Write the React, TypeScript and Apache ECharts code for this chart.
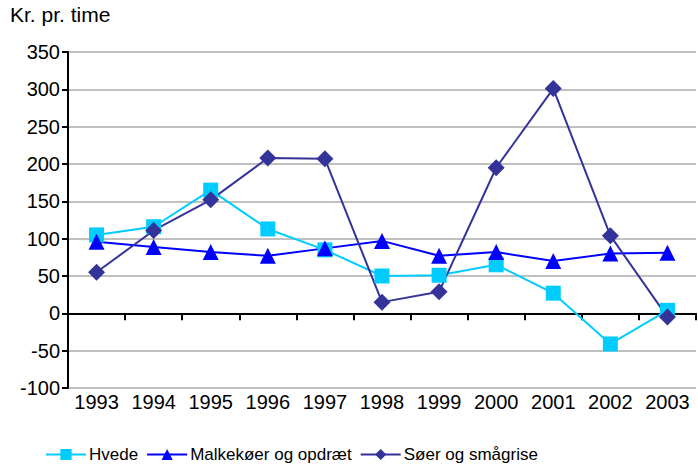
import React, { useEffect, useRef } from "react";
import * as echarts from "echarts";

const years = ["1993", "1994", "1995", "1996", "1997", "1998", "1999", "2000", "2001", "2002", "2003"];
const hvede = [105, 116, 165, 113, 85, 50, 51, 65, 27, -41, 4];
const malkekoer = [96, 89, 82, 77, 87, 97, 77, 82, 70, 80, 81];
const soer = [55, 111, 152, 208, 207, 15, 29, 195, 301, 104, -5];
const yTitle = "Kr. pr. time";

export default function App() {
  const ref = useRef<HTMLDivElement>(null);
  useEffect(() => {
    const chart = echarts.init(ref.current!, null, { renderer: "svg" });
    const font = "'Liberation Sans', Arial, sans-serif";
    const mk = (name: string, data: number[], color: string, symbol: string, size: number) => ({
      name,
      type: "line",
      data,
      xAxisIndex: 0,
      yAxisIndex: 0,
      symbol,
      symbolSize: size,
      lineStyle: { color, width: 2 },
      itemStyle: { color },
      color,
    });
    chart.setOption({
      animation: false,
      textStyle: { fontFamily: font },
      title: {
        text: yTitle,
        left: 10,
        top: 4,
        padding: 0,
        textStyle: { fontFamily: font, fontSize: 21, fontWeight: "normal", color: "#000" },
      },
      grid: { left: 68, right: 2, top: 52, bottom: 85 },
      legend: {
        left: 40,
        bottom: 5,
        itemWidth: 40,
        itemHeight: 14,
        itemGap: 8,
        textStyle: { fontFamily: font, fontSize: 17, color: "#000", padding: [0, 0, 0, -2] },
        data: ["Hvede", "Malkekøer og opdræt", "Søer og smågrise"],
      },
      xAxis: [
        {
          type: "category",
          data: years,
          boundaryGap: true,
          axisLine: { show: false, onZero: false },
          axisTick: { show: false },
          axisLabel: { fontFamily: font, fontSize: 20, color: "#000", margin: 4, interval: 0 },
          splitLine: { show: false },
        },
        {
          type: "category",
          data: years,
          boundaryGap: true,
          position: "bottom",
          axisLine: { show: true, onZero: true, lineStyle: { color: "#000", width: 2 } },
          axisTick: { show: true, length: 7, lineStyle: { color: "#000", width: 2 }, interval: 0 },
          axisLabel: { show: false },
          splitLine: { show: false },
        },
      ],
      yAxis: {
        type: "value",
        min: -100,
        max: 350,
        interval: 50,
        axisLine: { show: true, lineStyle: { color: "#000", width: 2 } },
        axisTick: { show: true, length: 6, lineStyle: { color: "#000", width: 2 } },
        axisLabel: { fontFamily: font, fontSize: 20, color: "#000", margin: 8 },
        splitLine: { show: true, lineStyle: { color: "#C0C0C0", width: 2 } },
      },
      series: [
        mk("Hvede", hvede, "#00CCFF", "rect", 15),
        mk("Malkekøer og opdræt", malkekoer, "#0000FF", "triangle", 16),
        mk("Søer og smågrise", soer, "#333399", "diamond", 17),
      ],
    });
    return () => chart.dispose();
  }, []);
  return <div ref={ref} style={{ width: 698, height: 473, position: "absolute", left: 0, top: 0, background: "#fff" }} />;
}
